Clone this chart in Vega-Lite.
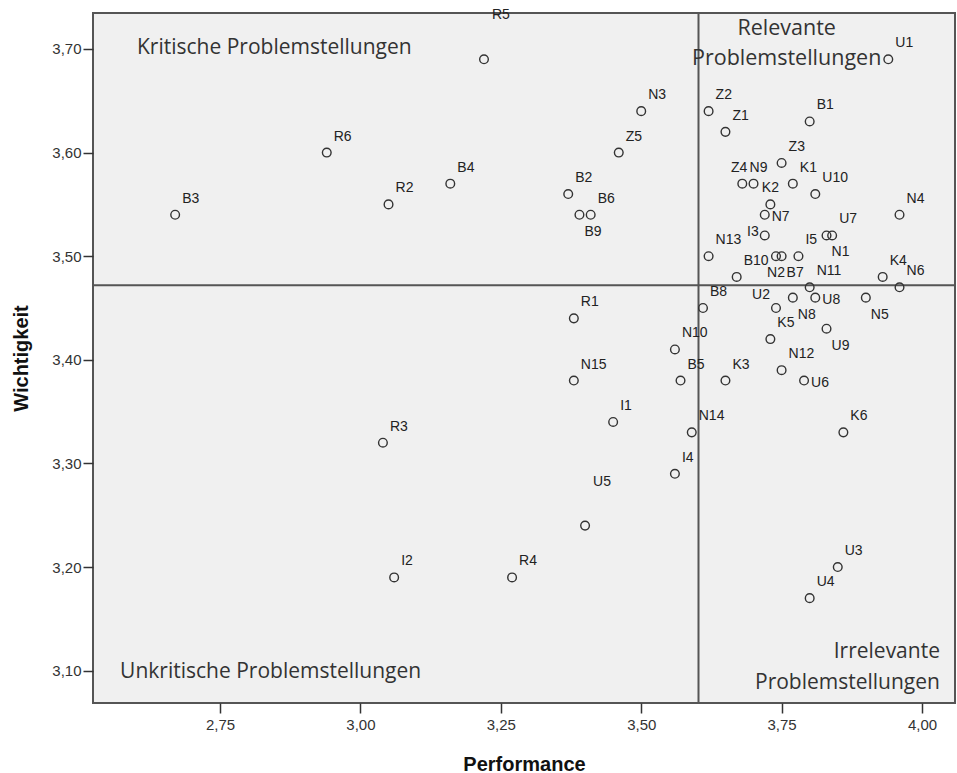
{
  "$schema": "https://vega.github.io/schema/vega-lite/v6.json",
  "width": 862,
  "height": 690,
  "autosize": {"type": "none"},
  "padding": {"left": 93, "top": 13, "right": 2, "bottom": 70},
  "background": "white",
  "config": {
    "view": {"fill": "#f0f0f0", "stroke": "#555555", "strokeWidth": 2},
    "axis": {
      "domain": false,
      "grid": false,
      "tickColor": "#333333",
      "tickWidth": 1.5,
      "labelFont": "Liberation Sans",
      "labelFontSize": 15,
      "labelColor": "#333333",
      "titleFont": "Liberation Sans",
      "titleFontSize": 20,
      "titleFontWeight": "bold",
      "titleColor": "#111111"
    }
  },
  "datasets": {
    "points": [
      {"id": "R5", "performance": 3.22, "wichtigkeit": 3.69, "pos": "uf"},
      {"id": "R6", "performance": 2.94, "wichtigkeit": 3.60, "pos": "ur"},
      {"id": "B3", "performance": 2.67, "wichtigkeit": 3.54, "pos": "ur"},
      {"id": "R2", "performance": 3.05, "wichtigkeit": 3.55, "pos": "ur"},
      {"id": "B4", "performance": 3.16, "wichtigkeit": 3.57, "pos": "ur"},
      {"id": "B2", "performance": 3.37, "wichtigkeit": 3.56, "pos": "ur"},
      {"id": "B9", "performance": 3.39, "wichtigkeit": 3.54, "pos": "br"},
      {"id": "B6", "performance": 3.41, "wichtigkeit": 3.54, "pos": "ur"},
      {"id": "Z5", "performance": 3.46, "wichtigkeit": 3.60, "pos": "ur"},
      {"id": "N3", "performance": 3.50, "wichtigkeit": 3.64, "pos": "ur"},
      {"id": "Z2", "performance": 3.62, "wichtigkeit": 3.64, "pos": "ur"},
      {"id": "Z1", "performance": 3.65, "wichtigkeit": 3.62, "pos": "ur"},
      {"id": "B1", "performance": 3.80, "wichtigkeit": 3.63, "pos": "ur"},
      {"id": "U1", "performance": 3.94, "wichtigkeit": 3.69, "pos": "ur"},
      {"id": "Z3", "performance": 3.75, "wichtigkeit": 3.59, "pos": "ur"},
      {"id": "Z4", "performance": 3.68, "wichtigkeit": 3.57, "pos": "al"},
      {"id": "N9", "performance": 3.70, "wichtigkeit": 3.57, "pos": "ar"},
      {"id": "K1", "performance": 3.77, "wichtigkeit": 3.57, "pos": "ur"},
      {"id": "U10", "performance": 3.81, "wichtigkeit": 3.56, "pos": "ur"},
      {"id": "K2", "performance": 3.73, "wichtigkeit": 3.55, "pos": "a"},
      {"id": "N7", "performance": 3.72, "wichtigkeit": 3.54, "pos": "r"},
      {"id": "I3", "performance": 3.72, "wichtigkeit": 3.52, "pos": "l"},
      {"id": "I5", "performance": 3.78, "wichtigkeit": 3.50, "pos": "ur"},
      {"id": "N1", "performance": 3.83, "wichtigkeit": 3.52, "pos": "br"},
      {"id": "U7", "performance": 3.84, "wichtigkeit": 3.52, "pos": "ur"},
      {"id": "N4", "performance": 3.96, "wichtigkeit": 3.54, "pos": "ur"},
      {"id": "N13", "performance": 3.62, "wichtigkeit": 3.50, "pos": "ur"},
      {"id": "B10", "performance": 3.67, "wichtigkeit": 3.48, "pos": "ur"},
      {"id": "N2", "performance": 3.74, "wichtigkeit": 3.50, "pos": "b"},
      {"id": "B7", "performance": 3.75, "wichtigkeit": 3.50, "pos": "br"},
      {"id": "N11", "performance": 3.80, "wichtigkeit": 3.47, "pos": "ur"},
      {"id": "K4", "performance": 3.93, "wichtigkeit": 3.48, "pos": "ur"},
      {"id": "N6", "performance": 3.96, "wichtigkeit": 3.47, "pos": "ur"},
      {"id": "N5", "performance": 3.90, "wichtigkeit": 3.46, "pos": "br"},
      {"id": "U8", "performance": 3.81, "wichtigkeit": 3.46, "pos": "r"},
      {"id": "B8", "performance": 3.61, "wichtigkeit": 3.45, "pos": "ur"},
      {"id": "U2", "performance": 3.74, "wichtigkeit": 3.45, "pos": "ul"},
      {"id": "N8", "performance": 3.77, "wichtigkeit": 3.46, "pos": "br"},
      {"id": "K5", "performance": 3.73, "wichtigkeit": 3.42, "pos": "ur"},
      {"id": "U9", "performance": 3.83, "wichtigkeit": 3.43, "pos": "br"},
      {"id": "N12", "performance": 3.75, "wichtigkeit": 3.39, "pos": "ur"},
      {"id": "U6", "performance": 3.79, "wichtigkeit": 3.38, "pos": "r"},
      {"id": "N10", "performance": 3.56, "wichtigkeit": 3.41, "pos": "ur"},
      {"id": "B5", "performance": 3.57, "wichtigkeit": 3.38, "pos": "ur"},
      {"id": "K3", "performance": 3.65, "wichtigkeit": 3.38, "pos": "ur"},
      {"id": "R1", "performance": 3.38, "wichtigkeit": 3.44, "pos": "ur"},
      {"id": "N15", "performance": 3.38, "wichtigkeit": 3.38, "pos": "ur"},
      {"id": "I1", "performance": 3.45, "wichtigkeit": 3.34, "pos": "ur"},
      {"id": "N14", "performance": 3.59, "wichtigkeit": 3.33, "pos": "ur"},
      {"id": "K6", "performance": 3.86, "wichtigkeit": 3.33, "pos": "ur"},
      {"id": "I4", "performance": 3.56, "wichtigkeit": 3.29, "pos": "ur"},
      {"id": "R3", "performance": 3.04, "wichtigkeit": 3.32, "pos": "ur"},
      {"id": "U5", "performance": 3.40, "wichtigkeit": 3.24, "pos": "uf"},
      {"id": "I2", "performance": 3.06, "wichtigkeit": 3.19, "pos": "ur"},
      {"id": "R4", "performance": 3.27, "wichtigkeit": 3.19, "pos": "ur"},
      {"id": "U3", "performance": 3.85, "wichtigkeit": 3.20, "pos": "ur"},
      {"id": "U4", "performance": 3.80, "wichtigkeit": 3.17, "pos": "ur"}
    ],
    "notes": [
      {"text": "Kritische Problemstellungen", "performance": 2.602, "wichtigkeit": 3.701, "side": "left"},
      {"text": "Unkritische Problemstellungen", "performance": 2.572, "wichtigkeit": 3.0987, "side": "left"},
      {"text": "Relevante", "performance": 3.759, "wichtigkeit": 3.7195, "side": "center"},
      {"text": "Problemstellungen", "performance": 3.759, "wichtigkeit": 3.6905, "side": "center"},
      {"text": "Irrelevante", "performance": 4.032, "wichtigkeit": 3.118, "side": "right"},
      {"text": "Problemstellungen", "performance": 4.032, "wichtigkeit": 3.088, "side": "right"}
    ],
    "refx": [{"performance": 3.602}],
    "refy": [{"wichtigkeit": 3.472}]
  },
  "layer": [
    {
      "data": {"name": "refx"},
      "mark": {"type": "rule", "color": "#555555", "strokeWidth": 2},
      "encoding": {
        "x": {"field": "performance", "type": "quantitative"}
      }
    },
    {
      "data": {"name": "refy"},
      "mark": {"type": "rule", "color": "#555555", "strokeWidth": 2},
      "encoding": {
        "y": {"field": "wichtigkeit", "type": "quantitative"}
      }
    },
    {
      "data": {"name": "points"},
      "mark": {"type": "point", "shape": "circle", "filled": false, "size": 75, "stroke": "#333333", "strokeWidth": 1.4, "opacity": 1},
      "encoding": {
        "x": {
          "field": "performance", "type": "quantitative",
          "scale": {"domain": [2.5237, 4.0588], "nice": false, "zero": false},
          "axis": {
            "title": "Performance",
            "values": [2.75, 3.0, 3.25, 3.5, 3.75, 4.0],
            "labelExpr": "replace(format(datum.value, '.2f'), '.', ',')",
            "tickSize": 10,
            "labelPadding": 4,
            "titlePadding": 22
          }
        },
        "y": {
          "field": "wichtigkeit", "type": "quantitative",
          "scale": {"domain": [3.0688, 3.7347], "nice": false, "zero": false},
          "axis": {
            "title": "Wichtigkeit",
            "values": [3.1, 3.2, 3.3, 3.4, 3.5, 3.6, 3.7],
            "labelExpr": "replace(format(datum.value, '.2f'), '.', ',')",
            "tickSize": 10,
            "labelPadding": 2,
            "titlePadding": 20
          }
        }
      }
    },
    {
      "data": {"name": "points"},
      "transform": [{"filter": "datum.pos === 'ur'"}],
      "mark": {"type": "text", "align": "left", "baseline": "middle", "dx": 7, "dy": -16, "font": "Liberation Sans", "fontSize": 14, "color": "#222222"},
      "encoding": {
        "x": {"field": "performance", "type": "quantitative"},
        "y": {"field": "wichtigkeit", "type": "quantitative"},
        "text": {"field": "id"}
      }
    },
    {
      "data": {"name": "points"},
      "transform": [{"filter": "datum.pos === 'uf'"}],
      "mark": {"type": "text", "align": "left", "baseline": "middle", "dx": 8, "dy": -44, "font": "Liberation Sans", "fontSize": 14, "color": "#222222"},
      "encoding": {
        "x": {"field": "performance", "type": "quantitative"},
        "y": {"field": "wichtigkeit", "type": "quantitative"},
        "text": {"field": "id"}
      }
    },
    {
      "data": {"name": "points"},
      "transform": [{"filter": "datum.pos === 'br'"}],
      "mark": {"type": "text", "align": "left", "baseline": "middle", "dx": 5, "dy": 17, "font": "Liberation Sans", "fontSize": 14, "color": "#222222"},
      "encoding": {
        "x": {"field": "performance", "type": "quantitative"},
        "y": {"field": "wichtigkeit", "type": "quantitative"},
        "text": {"field": "id"}
      }
    },
    {
      "data": {"name": "points"},
      "transform": [{"filter": "datum.pos === 'a'"}],
      "mark": {"type": "text", "align": "center", "baseline": "middle", "dx": 0, "dy": -16, "font": "Liberation Sans", "fontSize": 14, "color": "#222222"},
      "encoding": {
        "x": {"field": "performance", "type": "quantitative"},
        "y": {"field": "wichtigkeit", "type": "quantitative"},
        "text": {"field": "id"}
      }
    },
    {
      "data": {"name": "points"},
      "transform": [{"filter": "datum.pos === 'al'"}],
      "mark": {"type": "text", "align": "right", "baseline": "middle", "dx": 5, "dy": -16, "font": "Liberation Sans", "fontSize": 14, "color": "#222222"},
      "encoding": {
        "x": {"field": "performance", "type": "quantitative"},
        "y": {"field": "wichtigkeit", "type": "quantitative"},
        "text": {"field": "id"}
      }
    },
    {
      "data": {"name": "points"},
      "transform": [{"filter": "datum.pos === 'ar'"}],
      "mark": {"type": "text", "align": "left", "baseline": "middle", "dx": -4, "dy": -16, "font": "Liberation Sans", "fontSize": 14, "color": "#222222"},
      "encoding": {
        "x": {"field": "performance", "type": "quantitative"},
        "y": {"field": "wichtigkeit", "type": "quantitative"},
        "text": {"field": "id"}
      }
    },
    {
      "data": {"name": "points"},
      "transform": [{"filter": "datum.pos === 'b'"}],
      "mark": {"type": "text", "align": "center", "baseline": "middle", "dx": 0, "dy": 17, "font": "Liberation Sans", "fontSize": 14, "color": "#222222"},
      "encoding": {
        "x": {"field": "performance", "type": "quantitative"},
        "y": {"field": "wichtigkeit", "type": "quantitative"},
        "text": {"field": "id"}
      }
    },
    {
      "data": {"name": "points"},
      "transform": [{"filter": "datum.pos === 'r'"}],
      "mark": {"type": "text", "align": "left", "baseline": "middle", "dx": 7, "dy": 2, "font": "Liberation Sans", "fontSize": 14, "color": "#222222"},
      "encoding": {
        "x": {"field": "performance", "type": "quantitative"},
        "y": {"field": "wichtigkeit", "type": "quantitative"},
        "text": {"field": "id"}
      }
    },
    {
      "data": {"name": "points"},
      "transform": [{"filter": "datum.pos === 'l'"}],
      "mark": {"type": "text", "align": "right", "baseline": "middle", "dx": -6, "dy": -3, "font": "Liberation Sans", "fontSize": 14, "color": "#222222"},
      "encoding": {
        "x": {"field": "performance", "type": "quantitative"},
        "y": {"field": "wichtigkeit", "type": "quantitative"},
        "text": {"field": "id"}
      }
    },
    {
      "data": {"name": "points"},
      "transform": [{"filter": "datum.pos === 'ul'"}],
      "mark": {"type": "text", "align": "right", "baseline": "middle", "dx": -6, "dy": -13, "font": "Liberation Sans", "fontSize": 14, "color": "#222222"},
      "encoding": {
        "x": {"field": "performance", "type": "quantitative"},
        "y": {"field": "wichtigkeit", "type": "quantitative"},
        "text": {"field": "id"}
      }
    },
    {
      "data": {"name": "notes"},
      "transform": [{"filter": "datum.side === 'left'"}],
      "mark": {"type": "text", "align": "left", "baseline": "middle", "font": "Open Sans", "fontSize": 21, "color": "#333333"},
      "encoding": {
        "x": {"field": "performance", "type": "quantitative"},
        "y": {"field": "wichtigkeit", "type": "quantitative"},
        "text": {"field": "text"}
      }
    },
    {
      "data": {"name": "notes"},
      "transform": [{"filter": "datum.side === 'center'"}],
      "mark": {"type": "text", "align": "center", "baseline": "middle", "font": "Open Sans", "fontSize": 21.5, "color": "#333333"},
      "encoding": {
        "x": {"field": "performance", "type": "quantitative"},
        "y": {"field": "wichtigkeit", "type": "quantitative"},
        "text": {"field": "text"}
      }
    },
    {
      "data": {"name": "notes"},
      "transform": [{"filter": "datum.side === 'right'"}],
      "mark": {"type": "text", "align": "right", "baseline": "middle", "font": "Open Sans", "fontSize": 21, "color": "#333333"},
      "encoding": {
        "x": {"field": "performance", "type": "quantitative"},
        "y": {"field": "wichtigkeit", "type": "quantitative"},
        "text": {"field": "text"}
      }
    }
  ]
}
